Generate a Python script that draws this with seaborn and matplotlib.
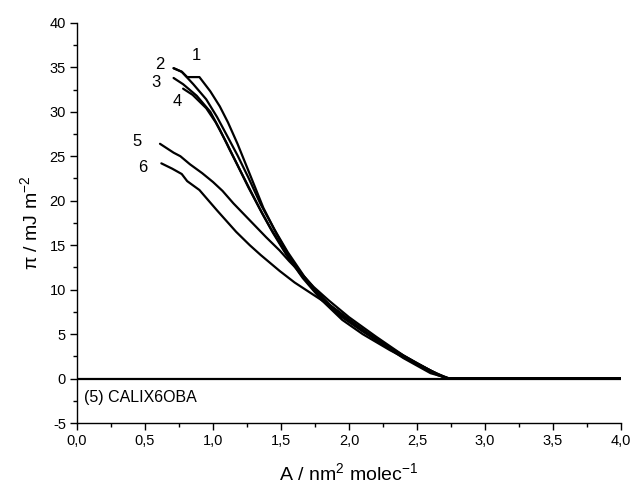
import matplotlib
matplotlib.use("Agg")
import matplotlib.pyplot as plt
import seaborn as sns
import pandas as pd
import numpy as np

# ---- data ----
c1_A = [0.71, 0.77, 0.81, 0.90, 0.93, 0.98, 1.05, 1.11, 1.18, 1.27, 1.37, 1.47, 1.57, 1.70, 1.85, 2.00, 2.20, 2.40, 2.60, 2.74, 4.0]
c1_pi = [34.9, 34.5, 33.9, 33.9, 33.3, 32.3, 30.6, 28.8, 26.4, 23.0, 19.2, 16.2, 13.5, 10.8, 8.4, 6.5, 4.3, 2.3, 0.6, 0.0, 0.0]

c2_A = [0.71, 0.77, 0.855, 0.95, 1.03, 1.10, 1.18, 1.26, 1.35, 1.45, 1.55, 1.67, 1.80, 1.95, 2.10, 2.30, 2.50, 2.65, 2.74, 4.0]
c2_pi = [34.9, 34.5, 33.1, 31.4, 29.4, 27.4, 25.1, 22.6, 19.6, 16.8, 14.2, 11.5, 9.1, 7.0, 5.5, 3.5, 1.7, 0.5, 0.0, 0.0]

c3_A = [0.71, 0.78, 0.88, 0.98, 1.05, 1.12, 1.20, 1.28, 1.36, 1.44, 1.54, 1.66, 1.80, 1.95, 2.10, 2.30, 2.50, 2.65, 2.73, 4.0]
c3_pi = [33.8, 33.1, 31.8, 30.0, 28.0, 25.8, 23.4, 21.0, 18.6, 16.4, 13.9, 11.3, 8.8, 6.6, 5.0, 3.2, 1.6, 0.4, 0.0, 0.0]

c4_A = [0.78, 0.85, 0.95, 1.02, 1.10, 1.18, 1.26, 1.34, 1.42, 1.52, 1.64, 1.78, 1.93, 2.10, 2.30, 2.50, 2.65, 2.72, 4.0]
c4_pi = [32.6, 31.9, 30.4, 28.8, 26.5, 24.0, 21.5, 19.2, 17.0, 14.5, 11.8, 9.3, 7.1, 5.3, 3.4, 1.7, 0.5, 0.0, 0.0]

c5_A = [0.61, 0.71, 0.76, 0.83, 0.92, 1.00, 1.07, 1.15, 1.27, 1.39, 1.49, 1.56, 1.65, 1.74, 1.85, 2.00, 2.20, 2.40, 2.60, 2.73, 4.0]
c5_pi = [26.4, 25.4, 25.0, 24.1, 23.1, 22.1, 21.1, 19.7, 17.8, 15.9, 14.4, 13.2, 11.8, 10.3, 8.8, 6.9, 4.7, 2.6, 0.9, 0.0, 0.0]

c6_A = [0.62, 0.70, 0.77, 0.81, 0.90, 1.03, 1.17, 1.27, 1.35, 1.42, 1.49, 1.60, 1.74, 1.91, 2.05, 2.20, 2.40, 2.60, 2.72, 4.0]
c6_pi = [24.2, 23.6, 23.0, 22.2, 21.2, 18.9, 16.5, 15.0, 13.9, 13.0, 12.1, 10.8, 9.4, 7.7, 6.1, 4.4, 2.4, 0.8, 0.0, 0.0]

curve_names = ["1", "2", "3", "4", "5", "6"]
curve_label_A = [0.88, 0.61, 0.58, 0.74, 0.44, 0.48]
curve_label_pi = [36.3, 35.3, 33.3, 31.2, 26.7, 23.7]

x_ticks = [0.0, 0.5, 1.0, 1.5, 2.0, 2.5, 3.0, 3.5, 4.0]
x_ticklabels = ["0,0", "0,5", "1,0", "1,5", "2,0", "2,5", "3,0", "3,5", "4,0"]
y_ticks = [-5, 0, 5, 10, 15, 20, 25, 30, 35, 40]
y_ticklabels = ["-5", "0", "5", "10", "15", "20", "25", "30", "35", "40"]

title_text = "(5) CALIX6OBA"

# ---- build long table ----
frames = []
for name, a, p in zip(curve_names, [c1_A, c2_A, c3_A, c4_A, c5_A, c6_A],
                      [c1_pi, c2_pi, c3_pi, c4_pi, c5_pi, c6_pi]):
    frames.append(pd.DataFrame({"A": a, "pi": p, "curve": name}))
df = pd.concat(frames, ignore_index=True)

sns.set_theme(style="ticks")
plt.rcParams["font.family"] = ["Liberation Sans", "DejaVu Sans"]
plt.rcParams["mathtext.fontset"] = "custom"
plt.rcParams["mathtext.rm"] = "Liberation Sans"
plt.rcParams["mathtext.it"] = "Liberation Sans:italic"
plt.rcParams["axes.unicode_minus"] = False

fig = plt.figure(figsize=(6.34, 4.86), dpi=100)
ax = fig.add_axes([0.1215, 0.1296, 0.858, 0.8234])

sns.lineplot(data=df, x="A", y="pi", hue="curve", units="curve", estimator=None,
             sort=False, palette=["black"] * 6, legend=False, linewidth=1.6, ax=ax)
ax.axhline(0, color="black", linewidth=1.6, zorder=1)

for name, xa, ya in zip(curve_names, curve_label_A, curve_label_pi):
    ax.text(xa, ya, name, fontsize=12, ha="center", va="center", color="black")
ax.text(0.05, -2.1, title_text, fontsize=11.5, ha="left", va="center", color="black")

ax.set_xlim(0, 4)
ax.set_ylim(-5, 40)
ax.set_xticks(x_ticks)
ax.set_xticklabels(x_ticklabels)
ax.set_yticks(y_ticks)
ax.set_yticklabels(y_ticklabels)
ax.set_xticks(np.arange(0.25, 4.0, 0.5), minor=True)
ax.set_yticks(np.arange(-2.5, 40, 5), minor=True)
ax.tick_params(axis="both", which="major", direction="out", length=5, width=1,
               labelsize=10.5, color="black", labelcolor="black", pad=3)
ax.tick_params(axis="both", which="minor", direction="out", length=3, width=1, color="black")

for s in ["top", "right"]:
    ax.spines[s].set_visible(False)
for s in ["left", "bottom"]:
    ax.spines[s].set_color("black")
    ax.spines[s].set_linewidth(1.0)

ax.set_xlabel("A / nm$^{2}$ molec$^{\\mathrm{-1}}$", fontsize=14, color="black", labelpad=10)
ax.set_ylabel("π / mJ m$^{\\mathrm{-2}}$", fontsize=14, color="black", labelpad=6)
ax.set_facecolor("white")
fig.patch.set_facecolor("white")

fig.savefig("out.png", dpi=100, facecolor="white")
